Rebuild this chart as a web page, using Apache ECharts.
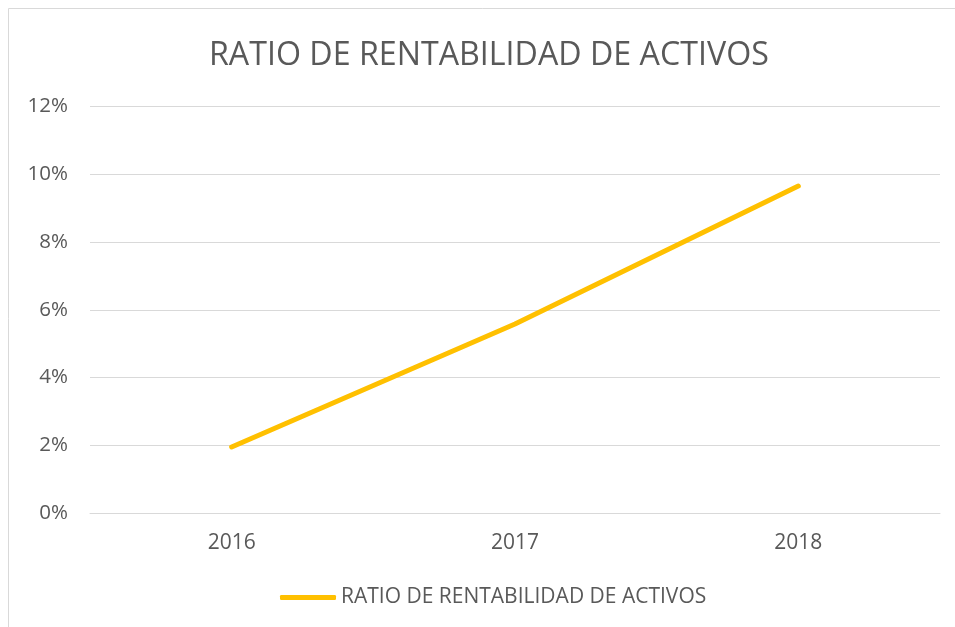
<!DOCTYPE html>
<html><head><meta charset="utf-8">
<script src="https://cdn.jsdelivr.net/npm/echarts@6/dist/echarts.min.js"></script>
<style>html,body{margin:0;padding:0;background:#fff}#c{width:955px;height:627px}</style>
</head><body><div id="c"></div>
<script>
const title = 'RATIO DE RENTABILIDAD DE ACTIVOS';
const categories = ['2016', '2017', '2018'];
const seriesName = 'RATIO DE RENTABILIDAD DE ACTIVOS';
const values = [1.95, 5.58, 9.65];
const yTicks = [0, 2, 4, 6, 8, 10, 12];

const chart = echarts.init(document.getElementById('c'), null, {renderer: 'canvas'});
const font = '"Open Sans", "Liberation Sans", sans-serif';
chart.setOption({
  animation: false,
  graphic: [{type: 'rect', shape: {x: 8.5, y: 8.5, width: 1000, height: 1000},
    style: {fill: 'none', stroke: '#d9d9d9', lineWidth: 1}, silent: true}],
  title: {text: title, left: 204, top: 35,
    textStyle: {fontFamily: font, fontSize: 32.2, fontWeight: 'normal', color: '#595959'}},
  grid: {left: 90, right: 15, top: 106.5, bottom: 114, containLabel: false},
  legend: {bottom: 14, left: 275, itemWidth: 56, itemHeight: 5,
    icon: 'roundRect',
    textStyle: {fontFamily: font, fontSize: 21, color: '#595959'},
    data: [seriesName]},
  xAxis: {type: 'category', data: categories, boundaryGap: true,
    axisLine: {show: true, lineStyle: {color: '#d9d9d9', width: 1}},
    axisTick: {show: false},
    axisLabel: {fontFamily: font, fontSize: 21, color: '#595959', margin: 20}},
  yAxis: {type: 'value', min: yTicks[0], max: yTicks[yTicks.length - 1], interval: 2,
    axisLine: {show: false}, axisTick: {show: false},
    splitLine: {lineStyle: {color: '#d9d9d9', width: 1}},
    axisLabel: {fontFamily: font, fontSize: 20.5, color: '#595959', margin: 22,
      formatter: v => v + '%'}},
  series: [{name: seriesName, type: 'line', data: values, symbol: 'none',
    lineStyle: {color: '#FFC000', width: 5, cap: 'round'},
    itemStyle: {color: '#FFC000'}}]
});
</script></body></html>
